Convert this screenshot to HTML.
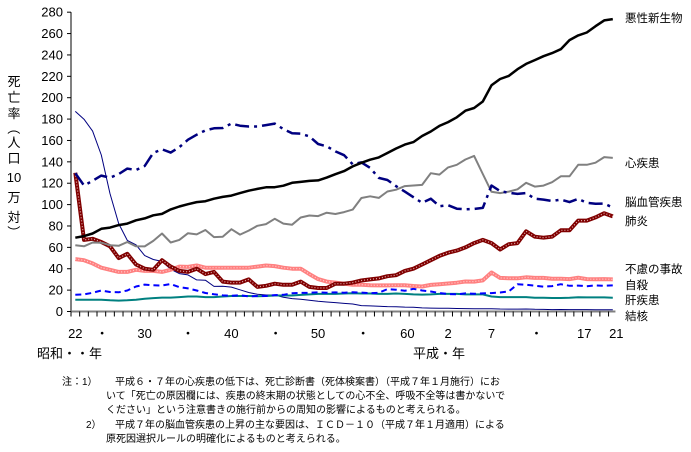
<!DOCTYPE html>
<html><head><meta charset="utf-8">
<style>
html,body{margin:0;padding:0;background:#fff;}
body{width:691px;height:447px;overflow:hidden;font-family:"Liberation Sans","Noto Sans CJK JP",sans-serif;}
svg text{font-family:"Liberation Sans","Noto Sans CJK JP",sans-serif;}
</style></head>
<body>
<svg id="chart" width="691" height="447" viewBox="0 0 691 447" xmlns="http://www.w3.org/2000/svg">
<g id="axes"></g>
<g id="series"></g>
<g id="labels"></g>
</svg>
<script>
const years = [];
for (let y = 1947; y <= 2009; y++) years.push(y);
const yTicks = [0,20,40,60,80,100,120,140,160,180,200,220,240,260,280];
const xTickYears = [1947,1951,1955,1960,1965,1970,1975,1980,1985,1990,1995,2000,2005,2009];
const xTickLabels = ["22","・","30","・","40","・","50","・","60","2","7","・","17","21"];
const xTickPos = [1947,1950.1,1955,1960,1965,1970.1,1975,1980.2,1985.3,1990,1995,2000.2,2005.7,2009.4];

const cancer = [69.0,70.5,73.0,77.4,78.5,80.8,82.2,85.3,87.1,90.0,91.3,95.5,98.2,100.4,102.3,103.2,105.5,107.2,108.4,110.8,113.0,114.7,116.2,116.3,117.7,120.4,121.2,122.2,122.6,125.3,128.4,131.3,135.7,139.1,142.0,144.2,148.3,152.5,156.1,158.5,164.2,168.4,173.6,177.2,181.7,187.8,190.4,196.4,211.6,217.5,220.4,226.7,231.6,235.2,238.8,241.7,245.4,253.9,258.3,261.0,266.9,272.3,273.5];
const heart = [62,61,64.5,64.4,62,61.5,65,61,60.9,66,73,64.5,67,73.2,72.1,76.2,69.6,69.9,77.0,71.9,75.7,80.2,81.8,86.7,82.2,81.2,87.9,89.8,89.2,92.4,91.2,93.0,95.3,106.2,107.8,106.3,112.3,113.9,117.3,117.9,118.4,129.4,128.1,134.8,137.2,142.2,145.6,128.6,112.0,110.8,112.2,114.3,120.4,116.8,117.8,121.0,126.5,126.5,137.2,137.2,139.2,144.4,143.7];
const stroke = [129.4,117.9,122.3,127.1,125.2,128.5,133.7,132.4,136.1,148.4,151.7,148.6,153.7,160.7,165.4,169.4,171.4,171.7,175.8,173.8,173.1,173.1,174.4,175.8,170.6,166.7,166.3,163.8,156.7,154.5,149.8,146.2,137.7,139.5,134.3,125.0,123.0,117.2,112.2,106.9,101.7,105.5,98.5,99.4,96.2,95.6,96.0,96.9,117.9,112.6,111.0,110.0,110.8,105.5,104.7,103.4,104.7,102.3,105.3,101.7,100.8,100.9,97.2];
const pneumonia = [129.8,67,68,65,61,50,54,44,40,39,48,42,38,37,40,35,37,28,27,27,30,23,24,26,25,25,28,23,22,22,26,26,27,29,30,31,33,34,38,40,44,48,52,55,57,60,64,67,64,58,63,64,75,70,69,70,76,76,85,85,88,92,89];
const accident = [49,48,45,41,39,37,37,39,38,38,37,39,42,41.7,43,41,41,41,40.9,41,41,42,43,42.5,41,40,40,35,30.3,28,27,26,25,25.1,24.6,24.4,24.4,24.6,24.6,23.9,23.4,24.9,25.4,26.2,26.9,28.1,28,29.1,36.5,31.4,31.1,31.1,32.0,31.4,31.4,30.7,30.7,30.3,31.6,30.3,30.1,30.3,30.0];
const suicide = [15.7,16.0,17.5,19.6,18.2,18.0,19.6,23.4,25.2,24.5,24.3,25.7,22.7,21.6,19.6,17.3,16.1,15.1,14.7,15.2,14.2,14.5,14.5,15.3,15.6,17.0,17.4,17.5,18.0,17.6,17.9,17.6,18.0,17.7,17.1,17.5,21.0,20.4,19.4,21.2,19.6,18.7,17.3,16.4,16.1,16.9,16.6,16.9,17.2,17.8,18.8,25.4,25.0,24.1,23.3,23.8,25.5,24.0,24.2,23.7,24.4,24.0,24.4];
const liver = [11,11,11,11,10.5,10.2,10.5,11,12,12.5,13,13,13.5,14,14,13.5,13.5,14,14.5,14.5,14.5,14.3,14.5,15,15,15,15.5,16,16.5,16.5,16.5,16.8,17,16.8,16.8,16.5,16.5,16.8,16.5,16,15.8,16,16.5,16.5,16.5,16,16,16,14,13.5,13.5,13.5,13.5,12.8,12.8,12.6,12.6,12.8,13.4,13.2,13.2,13.2,12.9];
const tb = [187.2,179.9,168.8,146.4,110.3,82.2,66.5,62.4,52.3,48.6,46.9,39.5,35.5,34.2,29.6,29.3,23.5,23.6,22.8,20.3,17.8,16.1,15.4,15.4,13.3,12.1,11.5,10.6,9.5,8.9,8.3,7.6,7.0,5.5,5.2,4.9,4.6,4.5,4.1,3.9,3.4,3.2,3.1,3.0,2.8,2.7,2.6,2.5,2.6,2.3,2.2,2.2,2.3,2.1,2.0,1.8,1.9,1.8,1.8,1.8,1.7,1.7,1.7];

const NS = "http://www.w3.org/2000/svg";
const X0 = 75.3, XPY = 8.67, AX = 71, Y0 = 311.5, YPU = 1.069;
function xs(yr){ return X0 + (yr - 1947) * XPY; }
function ys(v){ return Y0 - v * YPU; }
function mk(tag, attrs, parent){ const e = document.createElementNS(NS, tag); for (const k in attrs) e.setAttribute(k, attrs[k]); parent.appendChild(e); return e; }

const axes = document.getElementById('axes');
const ser = document.getElementById('series');
const lab = document.getElementById('labels');

// y axis
const yAxis = mk('line', {x1:AX, y1:ys(280), x2:AX, y2:Y0, stroke:'#000', 'stroke-width':1}, axes);


yTicks.forEach(t => {
  const tk = mk('line', {x1:AX-4, y1:ys(t), x2:AX, y2:ys(t), stroke:'#000', 'stroke-width':1}, axes);
  
  
  const tl = mk('text', {x:AX-8, y:ys(t)+4.5, 'text-anchor':'end', 'font-size':13, fill:'#000'}, axes);
  tl.textContent = t;
  
  
});
// x axis
const xAxis = mk('line', {x1:AX, y1:Y0, x2:xs(2009.3), y2:Y0, stroke:'#808080', 'stroke-width':2}, axes);


years.forEach(yr => {
  const tk = mk('line', {x1:xs(yr)-4.3, y1:Y0, x2:xs(yr)-4.3, y2:Y0+5, stroke:'#000', 'stroke-width':1}, axes);
  
  
});
xTickLabels.forEach((s, i) => {
  const tl = mk('text', {x:xs(xTickPos[i]), y:338, 'text-anchor':'middle', 'font-size':13, fill:'#000'}, axes);
  tl.textContent = s;
  
  
});

function line(data, name, attrs){
  const d = data.map((v, i) => (i ? 'L' : 'M') + xs(years[i]).toFixed(1) + ' ' + ys(v).toFixed(1)).join(' ');
  const p = mk('path', Object.assign({d:d, fill:'none', 'stroke-linejoin':'round'}, attrs), ser);
  
  
  return p;
}
line(tb, 'series-tuberculosis', {stroke:'#000080', 'stroke-width':1});
line(liver, 'series-liver-disease', {stroke:'#008080', 'stroke-width':2});
line(suicide, 'series-suicide', {stroke:'#0000ff', 'stroke-width':2, 'stroke-dasharray':'6 4'});
line(accident, 'series-accident', {stroke:'#ff8080', 'stroke-width':4});
line(accident, 'series-accident-dots', {stroke:'#ffd0d0', 'stroke-width':1.2, 'stroke-dasharray':'1 2'});
line(pneumonia, 'series-pneumonia', {stroke:'#800000', 'stroke-width':4});
line(pneumonia, 'series-pneumonia-dots', {stroke:'#e0b0b0', 'stroke-width':1.2, 'stroke-dasharray':'1 2'});
line(heart, 'series-heart-disease', {stroke:'#808080', 'stroke-width':2});
line(stroke, 'series-cerebrovascular', {stroke:'#000080', 'stroke-width':2.5, 'stroke-dasharray':'14 5 3 5'});
line(cancer, 'series-malignant-neoplasm', {stroke:'#000', 'stroke-width':2.5});

const seriesLabels = [
  ['悪性新生物', 22, 'label-malignant-neoplasm'],
  ['心疾患', 167, 'label-heart-disease'],
  ['脳血管疾患', 206, 'label-cerebrovascular'],
  ['肺炎', 225, 'label-pneumonia'],
  ['不慮の事故', 273, 'label-accident'],
  ['自殺', 289, 'label-suicide'],
  ['肝疾患', 304, 'label-liver-disease'],
  ['結核', 320, 'label-tuberculosis']
];
seriesLabels.forEach(l => {
  const t = mk('text', {x:625, y:l[1], 'font-size':11.5, fill:'#000'}, lab);
  t.textContent = l[0];
  
  
});

const yTitle = ['死',81,'亡',97,'率',113,'（',128,'人',142,'口',158,'10',177,'万',197,'対',217,'）',232];
for (let i = 0; i < yTitle.length; i += 2) {
  const t = mk('text', {x:14, y:yTitle[i+1]+5, 'text-anchor':'middle', 'font-size':13, fill:'#000'}, lab);
  t.textContent = yTitle[i];
  if (yTitle[i] === '（' || yTitle[i] === '）') t.setAttribute('transform', 'rotate(90 14 ' + yTitle[i+1] + ')');
  
  
}

const misc = [
  ['昭和・・年', 37, 358, 13, 'x-era-showa'],
  ['平成・年', 413, 358, 13, 'x-era-heisei'],
  ['注：1）', 62, 385, 10, 'note-1-marker'],
  ['平成６・７年の心疾患の低下は、死亡診断書（死体検案書）（平成７年１月施行）にお', 115, 385, 10, 'note-1-line-1'],
  ['いて「死亡の原因欄には、疾患の終末期の状態としての心不全、呼吸不全等は書かないで', 106, 399, 10, 'note-1-line-2'],
  ['ください」という注意書きの施行前からの周知の影響によるものと考えられる。', 106, 413, 10, 'note-1-line-3'],
  ['2）', 86, 428, 10, 'note-2-marker'],
  ['平成７年の脳血管疾患の上昇の主な要因は、ＩＣＤ－１０（平成７年１月適用）による', 115, 428, 10, 'note-2-line-1'],
  ['原死因選択ルールの明確化によるものと考えられる。', 106, 442, 10, 'note-2-line-2']
];
misc.forEach(m => {
  const t = mk('text', {x:m[1], y:m[2], 'font-size':m[3], fill:'#000'}, lab);
  t.textContent = m[0];
  
  
});
</script>
</body></html>
